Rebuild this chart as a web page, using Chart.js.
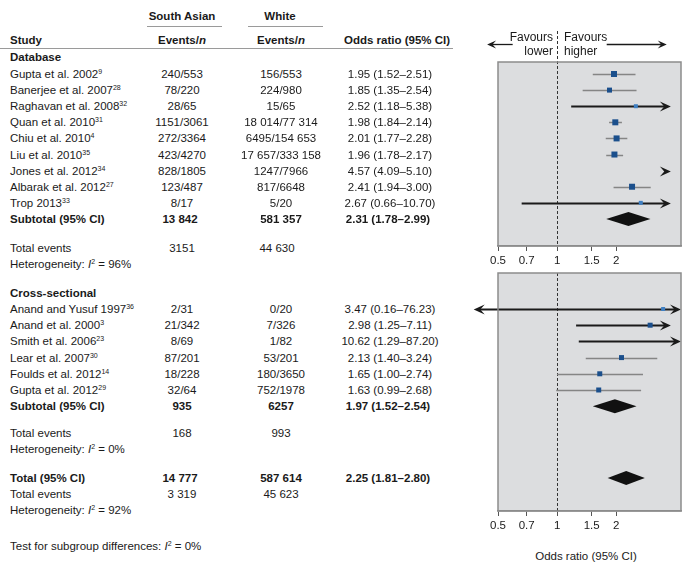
<!DOCTYPE html>
<html>
<head>
<meta charset="utf-8">
<script src="https://cdn.jsdelivr.net/npm/chart.js@4.4.0/dist/chart.umd.min.js"></script>
<style>
body { margin: 0; background: #fff; }
#wrap { position: relative; width: 699px; height: 575px; overflow: hidden;
        font-family: "Liberation Sans", Arial, Helvetica, sans-serif; font-size: 11.5px; color: #1a1a1a; }
.t { position: absolute; line-height: 16px; white-space: nowrap; }
.b { font-weight: bold; }
sup { font-size: 7px; vertical-align: 4px; line-height: 0; }
canvas { position: absolute; }
.rule { position: absolute; height: 0; border-top: 1.5px solid #9a9a9a; }
</style>
</head>
<body>
<div id="wrap">
  <canvas id="p1" width="229" height="240" style="left:470px;top:28px"></canvas>
  <canvas id="p2" width="229" height="265" style="left:470px;top:268px"></canvas>
</div>
<script>
// DATA - database studies
const dbStudies = ['Gupta et al. 2002', 'Banerjee et al. 2007', 'Raghavan et al. 2008', 'Quan et al. 2010', 'Chiu et al. 2010',
                   'Liu et al. 2010', 'Jones et al. 2012', 'Albarak et al. 2012', 'Trop 2013'];
const dbRefs = ['9', '28', '32', '31', '4', '35', '34', '27', '33'];
const dbSouthAsian = ['240/553', '78/220', '28/65', '1151/3061', '272/3364', '423/4270', '828/1805', '123/487', '8/17'];
const dbWhite = ['156/553', '224/980', '15/65', '18 014/77 314', '6495/154 653', '17 657/333 158', '1247/7966', '817/6648', '5/20'];
const dbOR = [1.95, 1.85, 2.52, 1.98, 2.01, 1.96, 4.57, 2.41, 2.67];
const dbLow = [1.52, 1.35, 1.18, 1.84, 1.77, 1.78, 4.09, 1.94, 0.66];
const dbHigh = [2.51, 2.54, 5.38, 2.14, 2.28, 2.17, 5.10, 3.00, 10.70];

// DATA - cross-sectional studies
const csStudies = ['Anand and Yusuf 1997', 'Anand et al. 2000', 'Smith et al. 2006', 'Lear et al. 2007', 'Foulds et al. 2012', 'Gupta et al. 2012'];
const csRefs = ['36', '3', '23', '30', '14', '29'];
const csSouthAsian = ['2/31', '21/342', '8/69', '87/201', '18/228', '32/64'];
const csWhite = ['0/20', '7/326', '1/82', '53/201', '180/3650', '752/1978'];
const csOR = [3.47, 2.98, 10.62, 2.13, 1.65, 1.63];
const csLow = [0.16, 1.25, 1.29, 1.40, 1.00, 0.99];
const csHigh = [76.23, 7.11, 87.20, 3.24, 2.74, 2.68];

// DATA - subtotals [database, cross-sectional] and overall total
const subOR = [2.31, 1.97];
const subLow = [1.78, 1.52];
const subHigh = [2.99, 2.54];
const subSouthAsian = ['13 842', '935'];
const subWhite = ['581 357', '6257'];
const subEventsSA = ['3151', '168'];
const subEventsWh = ['44 630', '993'];
const subI2 = ['96%', '0%'];
const totalOR = [2.25, 1.81, 2.80];   // estimate, low, high
const totalN = ['14 777', '587 614'];
const totalEvents = ['3 319', '45 623'];
const totalI2 = '92%';
const subgroupI2 = '0%';

// AXIS
const tickValues = [0.5, 0.7, 1, 1.5, 2];
const xMin = 0.5, xMax = 4.28;

// STYLE (marker side in px, 0 = not drawn)
const dbMarker = [6, 5, 4, 6, 6, 6, 0, 6, 4];
const csMarker = [4, 5, 0, 5, 5, 5];
const FONT = '"Liberation Sans", Arial, Helvetica, sans-serif';

const fmt = (o, l, h) => o.toFixed(2) + ' (' + l.toFixed(2) + '\u2013' + h.toFixed(2) + ')';

function arrowHead(ctx, x, y, dir, len, half) {
    ctx.beginPath();
    ctx.moveTo(x, y);
    ctx.lineTo(x - dir * len, y - half);
    ctx.lineTo(x - dir * len * 0.6, y);
    ctx.lineTo(x - dir * len, y + half);
    ctx.closePath();
    ctx.fill();
}

const forestPlugin = {
    id: 'forest',
    beforeDraw(chart) {
        const a = chart.chartArea, ctx = chart.ctx;
        ctx.save();
        ctx.fillStyle = '#dcdddf';
        ctx.fillRect(a.left, a.top, a.width, a.height);
        ctx.restore();
    },
    beforeDatasetsDraw(chart) {
        const {ctx, chartArea: a} = chart;
        const x = chart.scales.x, y = chart.scales.y;
        const o = chart.options.plugins.forest;
        ctx.save();
        // line of no effect
        const x1 = Math.round(x.getPixelForValue(1)) + 0.5;
        ctx.strokeStyle = '#333'; ctx.lineWidth = 1; ctx.setLineDash([3, 2]);
        ctx.beginPath(); ctx.moveTo(x1, o.header ? 3 : a.top); ctx.lineTo(x1, a.bottom); ctx.stroke();
        ctx.setLineDash([]);

        // confidence intervals
        const cut = 3.8;
        o.rows.forEach(r => {
            const py = Math.round(y.getPixelForValue(r.y)) + 0.5;
            ctx.fillStyle = '#1a1a1a';
            if (r.lo > cut) {   // whole interval off the scale
                arrowHead(ctx, x.getPixelForValue(cut), py, 1, 11, 5);
                return;
            }
            const leftOpen = r.lo < xMin, rightOpen = r.hi > cut;
            const open = leftOpen || rightOpen;
            let lx = x.getPixelForValue(leftOpen ? 0.376 : r.lo);
            let rx = x.getPixelForValue(rightOpen ? (r.hi > 50 ? xMax : cut) : r.hi);
            ctx.strokeStyle = open ? '#1a1a1a' : '#858585';
            ctx.lineWidth = open ? 2 : 1.5;
            ctx.beginPath();
            ctx.moveTo(leftOpen ? lx + 6 : lx, py);
            ctx.lineTo(rightOpen ? rx - 6 : rx, py);
            ctx.stroke();
            if (leftOpen) arrowHead(ctx, lx, py, -1, 11, 5);
            if (rightOpen) arrowHead(ctx, rx, py, 1, 11, 5);
        });

        // pooled estimates
        ctx.fillStyle = '#111';
        o.diamonds.forEach(d => {
            const py = y.getPixelForValue(d.y);
            ctx.beginPath();
            ctx.moveTo(x.getPixelForValue(d.lo), py);
            ctx.lineTo(x.getPixelForValue(d.est), py - 7);
            ctx.lineTo(x.getPixelForValue(d.hi), py);
            ctx.lineTo(x.getPixelForValue(d.est), py + 7);
            ctx.closePath();
            ctx.fill();
        });

        // favours arrows
        if (o.header) {
            const hy = Math.round(y.getPixelForValue(-0.86)) + 0.5;
            ctx.strokeStyle = '#1a1a1a'; ctx.fillStyle = '#1a1a1a'; ctx.lineWidth = 1.3;
            const l0 = x.getPixelForValue(0.594), l1 = x.getPixelForValue(0.44);
            const r0 = x.getPixelForValue(1.79), r1 = x.getPixelForValue(3.62);
            ctx.beginPath(); ctx.moveTo(l0, hy); ctx.lineTo(l1 + 5, hy); ctx.stroke();
            arrowHead(ctx, l1, hy, -1, 9, 4);
            ctx.beginPath(); ctx.moveTo(r0, hy); ctx.lineTo(r1 - 5, hy); ctx.stroke();
            arrowHead(ctx, r1, hy, 1, 9, 4);
        }
        ctx.restore();
    },
    afterDraw(chart) {
        const {ctx, chartArea: a} = chart;
        ctx.save();
        ctx.strokeStyle = '#8c8c8c'; ctx.lineWidth = 1.5;
        ctx.strokeRect(a.left, a.top, a.width, a.height);
        ctx.restore();
    }
};

function makePanel(id, ors, markers, rows, diamonds, yMin, yMax, padTop, header) {
    const pts = ors.map((v, i) => ({x: v, y: i + 1}));
    return new Chart(document.getElementById(id).getContext('2d'), {
        type: 'scatter',
        data: {
            datasets: [{
                data: pts,
                pointStyle: 'rect',
                pointRadius: markers.map(s => s / Math.SQRT2),
                pointHoverRadius: markers.map(s => s / Math.SQRT2),
                pointBackgroundColor: markers.map(s => s <= 4 ? '#3f7fc2' : '#1b4f8c'),
                pointBorderWidth: 0
            }]
        },
        options: {
            responsive: false,
            animation: false,
            events: [],
            layout: { padding: { left: 28, right: 18, top: padTop, bottom: 0 } },
            plugins: {
                legend: { display: false },
                tooltip: { enabled: false },
                forest: { rows: rows, diamonds: diamonds, header: header }
            },
            scales: {
                x: {
                    type: 'logarithmic', min: xMin, max: xMax,
                    afterBuildTicks: s => { s.ticks = tickValues.map(v => ({ value: v })); },
                    afterFit: s => { s.height = 22; },
                    ticks: { callback: v => String(v), autoSkip: false, maxRotation: 0, padding: 3,
                             color: '#1a1a1a', font: { family: FONT, size: 11.5 } },
                    grid: { drawOnChartArea: false, drawTicks: true, tickLength: 5, color: '#555' },
                    border: { display: true, color: '#8c8c8c', width: 1.5 }
                },
                y: { type: 'linear', reverse: true, min: yMin, max: yMax, display: false }
            }
        },
        plugins: [forestPlugin]
    });
}

const dbRows = dbOR.map((v, i) => ({ y: i + 1, lo: dbLow[i], hi: dbHigh[i] }));
const csRows = csOR.map((v, i) => ({ y: i + 1, lo: csLow[i], hi: csHigh[i] }));

const chart1 = makePanel('p1', dbOR, dbMarker, dbRows,
    [{ y: dbStudies.length + 1, est: subOR[0], lo: subLow[0], hi: subHigh[0] }], 0.255, 11.68, 34, true);
const chart2 = makePanel('p2', csOR, csMarker, csRows,
    [{ y: csStudies.length + 1, est: subOR[1], lo: subLow[1], hi: subHigh[1] },
     { y: 11.43, est: totalOR[0], lo: totalOR[1], hi: totalOR[2] }], -1.222, 13.47, 5, false);

// TABLE TEXT
const wrap = document.getElementById('wrap');
const colStudy = 10, colSA = 182, colWh = 281, colOR = 390;
function put(html, x, y, opts) {
    opts = opts || {};
    const d = document.createElement('div');
    d.className = 't' + (opts.bold ? ' b' : '');
    d.innerHTML = html;
    d.style.top = (y - 8) + 'px';
    if (opts.size) d.style.fontSize = opts.size + 'px';
    if (opts.align === 'center') { d.style.left = x + 'px'; d.style.transform = 'translateX(-50%)'; }
    else if (opts.align === 'right') { d.style.right = (699 - x) + 'px'; }
    else d.style.left = x + 'px';
    wrap.appendChild(d);
}
function rule(x0, x1, y) {
    const d = document.createElement('div');
    d.className = 'rule';
    d.style.left = x0 + 'px'; d.style.width = (x1 - x0) + 'px'; d.style.top = y + 'px';
    wrap.appendChild(d);
}
const rowY1 = r => 28 + chart1.scales.y.getPixelForValue(r);
const rowY2 = r => 268 + chart2.scales.y.getPixelForValue(r);
const C = { align: 'center' }, CB = { align: 'center', bold: true };
const het = v => 'Heterogeneity: <i>I</i><sup>2</sup> = ' + v;

// headers
put('South Asian', colSA, rowY1(-2.6), CB);
put('White', colWh - 1, rowY1(-2.6), CB);
rule(147, 222, 26);
rule(248, 323, 26);
put('Study', colStudy, rowY1(-1.11), { bold: true });
put('Events/<i>n</i>', colSA, rowY1(-1.11), CB);
put('Events/<i>n</i>', colWh, rowY1(-1.11), CB);
put('Odds ratio (95% CI)', 397, rowY1(-1.11), CB);
rule(0, 453, 48);
put('Favours', 553, rowY1(-1.3), { align: 'right', size: 12 });
put('lower', 553, rowY1(-0.43), { align: 'right', size: 12 });
put('Favours', 564, rowY1(-1.3), { size: 12 });
put('higher', 564, rowY1(-0.43), { size: 12 });

// database block
put('Database', colStudy, rowY1(-0.06), { bold: true });
dbStudies.forEach((s, i) => {
    const y = rowY1(i + 1);
    put(s + '<sup>' + dbRefs[i] + '</sup>', colStudy, y);
    put(dbSouthAsian[i], colSA, y, C);
    put(dbWhite[i], colWh, y, C);
    put(fmt(dbOR[i], dbLow[i], dbHigh[i]), colOR, y, C);
});
let y = rowY1(10);
put('Subtotal (95% CI)', colStudy, y, { bold: true });
put(subSouthAsian[0], colSA - 2, y, CB);
put(subWhite[0], colWh, y, CB);
put(fmt(subOR[0], subLow[0], subHigh[0]), colOR - 2, y, CB);
put('Total events', colStudy, rowY1(11.8));
put(subEventsSA[0], colSA, rowY1(11.8), C);
put(subEventsWh[0], colWh - 4, rowY1(11.8), C);
put(het(subI2[0]), colStudy, rowY1(12.8));

// cross-sectional block
put('Cross-sectional', colStudy, rowY2(0), { bold: true });
csStudies.forEach((s, i) => {
    const y = rowY2(i + 1);
    put(s + '<sup>' + csRefs[i] + '</sup>', colStudy, y);
    put(csSouthAsian[i], colSA, y, C);
    put(csWhite[i], colWh, y, C);
    put(fmt(csOR[i], csLow[i], csHigh[i]), colOR, y, C);
});
y = rowY2(7);
put('Subtotal (95% CI)', colStudy, y, { bold: true });
put(subSouthAsian[1], colSA, y, CB);
put(subWhite[1], colWh, y, CB);
put(fmt(subOR[1], subLow[1], subHigh[1]), colOR - 2, y, CB);
put('Total events', colStudy, rowY2(8.65));
put(subEventsSA[1], colSA, rowY2(8.65), C);
put(subEventsWh[1], colWh, rowY2(8.65), C);
put(het(subI2[1]), colStudy, rowY2(9.65));

// overall
y = rowY2(11.43);
put('Total (95% CI)', colStudy, y, { bold: true });
put(totalN[0], colSA - 2, y, CB);
put(totalN[1], colWh, y, CB);
put(fmt(totalOR[0], totalOR[1], totalOR[2]), colOR - 2, y, CB);
put('Total events', colStudy, rowY2(12.43));
put(totalEvents[0], colSA, rowY2(12.43), C);
put(totalEvents[1], colWh, rowY2(12.43), C);
put(het(totalI2), colStudy, rowY2(13.43));
put('Test for subgroup differences: <i>I</i><sup>2</sup> = ' + subgroupI2, colStudy, rowY2(15.6));

put('Odds ratio (95% CI)', 586, 556, C);
</script>
</body>
</html>
